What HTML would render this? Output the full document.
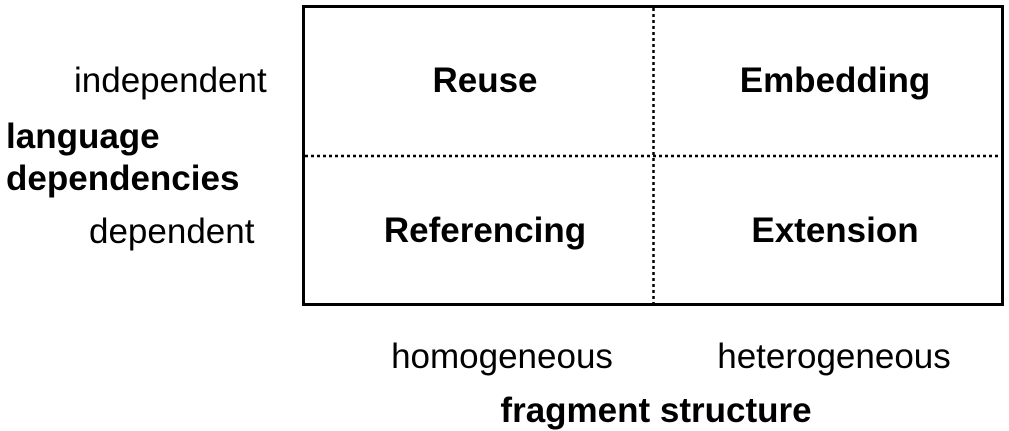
<!DOCTYPE html>
<html><head><style>
body{margin:0;width:1009px;height:431px;background:#fff;position:relative;font-family:"Liberation Sans",sans-serif;overflow:hidden}
.t{position:absolute;white-space:nowrap;font-size:35px;color:#000;line-height:1}
.b{font-weight:bold}
.c{transform:translateX(-50%)}
</style></head><body>
<svg width="1009" height="431" style="position:absolute;left:0;top:0">
<rect x="303.5" y="6.5" width="699" height="298" fill="none" stroke="#000" stroke-width="3"/>
<line x1="653.5" y1="8" x2="653.5" y2="303" stroke="#000" stroke-width="2.5" stroke-dasharray="3,3"/>
<line x1="305" y1="156" x2="1001" y2="156" stroke="#000" stroke-width="2.5" stroke-dasharray="3,3"/>
</svg>
<div class="t" style="left:74px;top:63px">independent</div>
<div class="t b" style="left:6px;top:119px">language</div>
<div class="t b" style="left:6px;top:161px">dependencies</div>
<div class="t" style="left:89px;top:214px">dependent</div>
<div class="t b c" style="left:485px;top:63px">Reuse</div>
<div class="t b c" style="left:835px;top:63px">Embedding</div>
<div class="t b c" style="left:485px;top:213px">Referencing</div>
<div class="t b c" style="left:835px;top:213px">Extension</div>
<div class="t c" style="left:502px;top:339px">homogeneous</div>
<div class="t c" style="left:834px;top:339px">heterogeneous</div>
<div class="t b c" style="left:656px;top:393px">fragment structure</div>
</body></html>
